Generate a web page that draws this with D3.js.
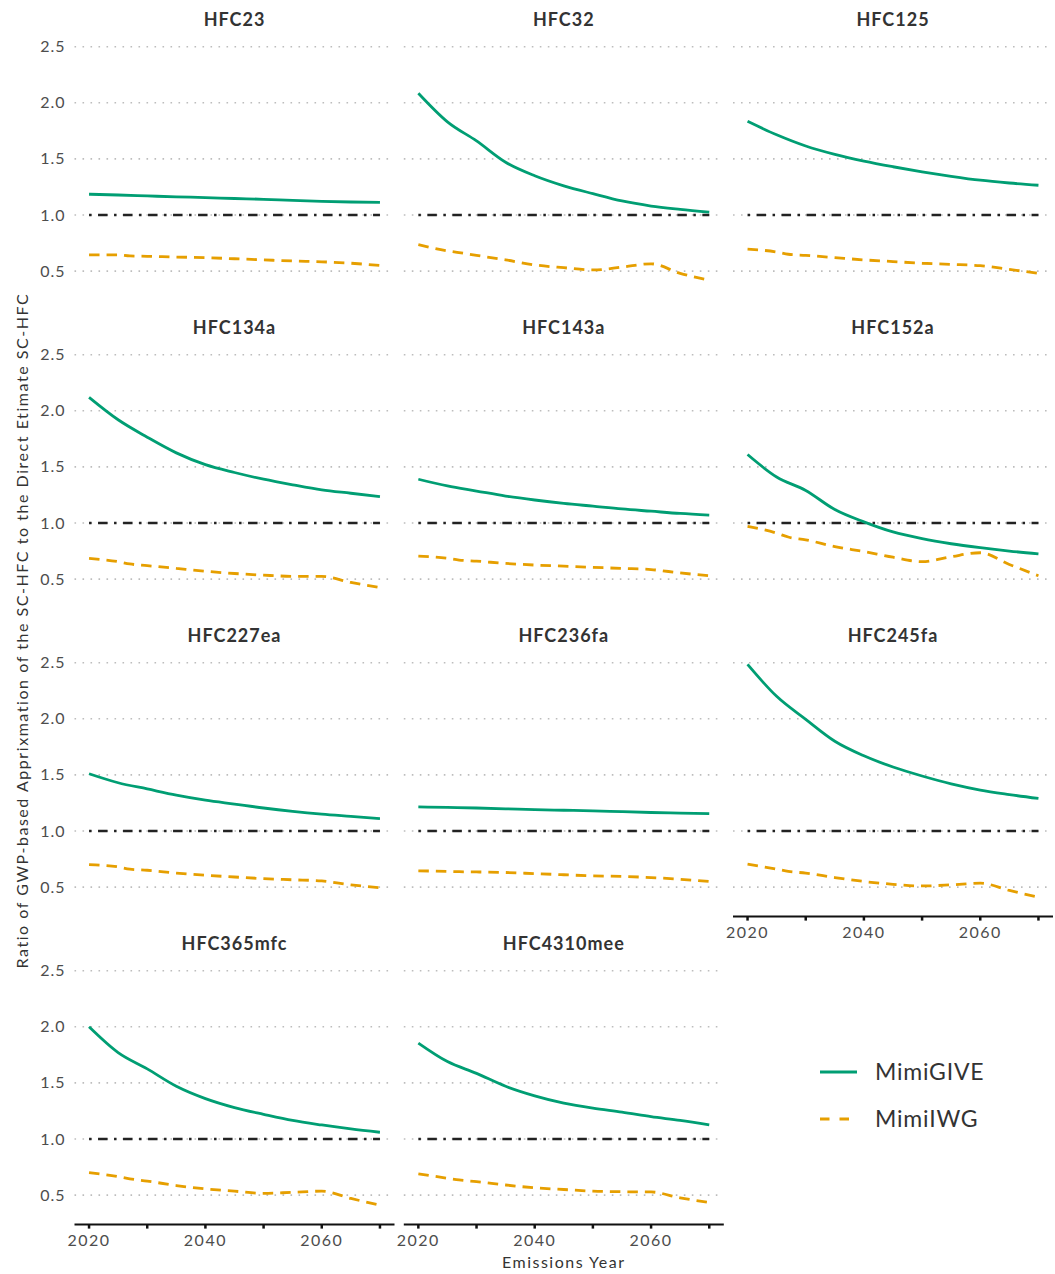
<!DOCTYPE html>
<html>
<head>
<meta charset="utf-8">
<script src="https://cdn.jsdelivr.net/npm/d3@7"></script>
<style>
  body { margin: 0; background: #fff; }
  svg text { font-family: Lato, "Open Sans", sans-serif; }
</style>
</head>
<body>
<div id="chart"></div>
<script>
// facet order (ggplot facet_wrap, 3 columns)
let gases = ["HFC23", "HFC32", "HFC125", "HFC134a", "HFC143a", "HFC152a",
             "HFC227ea", "HFC236fa", "HFC245fa", "HFC365mfc", "HFC4310mee"];

let giveYears = [2020, 2025, 2030, 2035, 2040, 2045, 2050, 2055, 2060, 2065, 2070];
let iwgYears = [2020, 2025, 2027, 2030, 2035, 2040, 2045, 2050, 2055, 2060, 2065, 2070];

// MimiGIVE ratio, one row per gas (same order as gases)
let giveRatios = [
    [1.185, 1.178, 1.170, 1.162, 1.155, 1.147, 1.140, 1.130, 1.122, 1.116, 1.113],
    [2.085, 1.830, 1.660, 1.470, 1.350, 1.260, 1.190, 1.125, 1.080, 1.050, 1.025],
    [1.835, 1.715, 1.615, 1.540, 1.480, 1.430, 1.385, 1.345, 1.310, 1.285, 1.265],
    [2.120, 1.920, 1.765, 1.625, 1.520, 1.450, 1.390, 1.340, 1.295, 1.265, 1.235],
    [1.390, 1.330, 1.285, 1.240, 1.205, 1.175, 1.150, 1.125, 1.105, 1.085, 1.070],
    [1.610, 1.410, 1.290, 1.120, 1.010, 0.920, 0.860, 0.815, 0.780, 0.750, 0.725],
    [1.510, 1.430, 1.375, 1.320, 1.275, 1.240, 1.205, 1.175, 1.150, 1.130, 1.110],
    [1.215, 1.210, 1.205, 1.198, 1.190, 1.185, 1.180, 1.172, 1.165, 1.160, 1.155],
    [2.485, 2.200, 1.995, 1.800, 1.670, 1.570, 1.490, 1.420, 1.365, 1.325, 1.290],
    [2.000, 1.770, 1.625, 1.470, 1.360, 1.280, 1.220, 1.165, 1.125, 1.090, 1.060],
    [1.855, 1.690, 1.585, 1.470, 1.385, 1.320, 1.275, 1.240, 1.200, 1.165, 1.125]
];

// MimiIWG ratio
let iwgRatios = [
    [0.645, 0.645, 0.635, 0.632, 0.625, 0.620, 0.610, 0.600, 0.590, 0.583, 0.570, 0.550],
    [0.735, 0.680, 0.665, 0.640, 0.600, 0.555, 0.530, 0.510, 0.535, 0.565, 0.480, 0.420],
    [0.695, 0.670, 0.650, 0.640, 0.620, 0.600, 0.585, 0.570, 0.560, 0.548, 0.515, 0.480],
    [0.685, 0.655, 0.635, 0.620, 0.595, 0.570, 0.550, 0.535, 0.525, 0.525, 0.470, 0.425],
    [0.705, 0.685, 0.670, 0.660, 0.640, 0.625, 0.615, 0.605, 0.595, 0.585, 0.555, 0.530],
    [0.970, 0.910, 0.875, 0.850, 0.790, 0.745, 0.695, 0.655, 0.700, 0.735, 0.630, 0.530],
    [0.700, 0.680, 0.660, 0.650, 0.625, 0.605, 0.590, 0.575, 0.565, 0.555, 0.520, 0.495],
    [0.645, 0.640, 0.637, 0.635, 0.630, 0.620, 0.610, 0.600, 0.595, 0.585, 0.570, 0.550],
    [0.705, 0.660, 0.640, 0.625, 0.585, 0.550, 0.525, 0.510, 0.520, 0.535, 0.470, 0.410],
    [0.700, 0.665, 0.645, 0.625, 0.585, 0.555, 0.535, 0.515, 0.525, 0.535, 0.470, 0.410],
    [0.690, 0.650, 0.635, 0.620, 0.590, 0.565, 0.550, 0.535, 0.530, 0.528, 0.475, 0.435]
];

let yTicks = [0.5, 1.0, 1.5, 2.0, 2.5];
let xTicks = [2020, 2030, 2040, 2050, 2060, 2070];
let xTickLabels = [2020, 2040, 2060];
let seriesNames = ["MimiGIVE", "MimiIWG"];

let width = 1055, height = 1274;
let ncol = 3;
let panelW = 320, panelH = 264;
let colX = [74.5, 403.8, 733];
let rowTop = 36.6, rowStep = 308;

let green = "#009E73", orange = "#E69F00";
let dashIwg = "10.5,7";

let xScale = d3.scaleLinear().domain([2017.5, 2072.5]).range([0, panelW]);
let yScale = d3.scaleLinear().domain([0.237, 2.59]).range([panelH, 0]);

let svg = d3.select("#chart").append("svg")
    .attr("width", width)
    .attr("height", height);

let line = d3.line()
    .x(d => xScale(d[0]))
    .y(d => yScale(d[1]))
    .curve(d3.curveMonotoneX);

let nrow = Math.ceil(gases.length / ncol);

gases.forEach((gas, i) => {
    let col = i % ncol;
    let row = Math.floor(i / ncol);
    let g = svg.append("g")
        .attr("transform", `translate(${colX[col]},${rowTop + row * rowStep})`);

    // strip title
    g.append("text")
        .attr("x", panelW / 2)
        .attr("y", -11)
        .attr("text-anchor", "middle")
        .style("font-size", "18px")
        .style("font-weight", "bold")
        .style("letter-spacing", "1px")
        .style("fill", "#333")
        .text(gas);

    // dotted horizontal grid
    g.selectAll("line.grid")
        .data(yTicks)
        .enter()
        .append("line")
        .attr("x1", 0)
        .attr("x2", panelW)
        .attr("y1", d => yScale(d))
        .attr("y2", d => yScale(d))
        .style("stroke", "#bdbdbd")
        .style("stroke-width", 1.6)
        .style("stroke-dasharray", "1.6,6.4");

    // y labels on first column only
    if (col === 0) {
        g.selectAll("text.ytick")
            .data(yTicks)
            .enter()
            .append("text")
            .attr("x", -9)
            .attr("y", d => yScale(d))
            .attr("dy", "0.35em")
            .attr("text-anchor", "end")
            .style("font-size", "16px")
            .style("letter-spacing", "1px")
            .style("fill", "#4d4d4d")
            .text(d => d3.format(".1f")(d));
    }

    // reference line at 1
    g.append("line")
        .attr("x1", xScale(2020))
        .attr("x2", xScale(2070))
        .attr("y1", yScale(1))
        .attr("y2", yScale(1))
        .style("stroke", "#222")
        .style("stroke-width", 2.4)
        .style("stroke-dasharray", "2.5,6.5,9.5,6.5");

    let give = giveYears.map((y, k) => [y, giveRatios[i][k]]);
    let iwg = iwgYears.map((y, k) => [y, iwgRatios[i][k]]);

    g.append("path")
        .datum(iwg)
        .attr("d", line)
        .style("fill", "none")
        .style("stroke", orange)
        .style("stroke-width", 2.8)
        .style("stroke-dasharray", dashIwg);

    g.append("path")
        .datum(give)
        .attr("d", line)
        .style("fill", "none")
        .style("stroke", green)
        .style("stroke-width", 2.8);

    // x axis only where nothing sits below
    let below = i + ncol;
    if (below >= gases.length) {
        let ax = g.append("g").attr("transform", `translate(0,${panelH})`);
        ax.append("line")
            .attr("x1", 0).attr("x2", panelW)
            .style("stroke", "#111")
            .style("stroke-width", 2);
        ax.selectAll("line.tick")
            .data(xTicks)
            .enter()
            .append("line")
            .attr("x1", d => xScale(d))
            .attr("x2", d => xScale(d))
            .attr("y1", 0)
            .attr("y2", 4)
            .style("stroke", "#111")
            .style("stroke-width", 2.5);
        ax.selectAll("text.xtick")
            .data(xTickLabels)
            .enter()
            .append("text")
            .attr("x", d => xScale(d))
            .attr("y", 21)
            .attr("text-anchor", "middle")
            .style("font-size", "16px")
            .style("letter-spacing", "1.5px")
            .style("fill", "#4d4d4d")
            .text(d => d);
    }
});

// axis titles
svg.append("text")
    .attr("transform", `translate(28,${rowTop + (rowStep * (nrow - 1) + panelH) / 2}) rotate(-90)`)
    .attr("text-anchor", "middle")
    .style("font-size", "16px")
    .style("letter-spacing", "1.55px")
    .style("fill", "#333")
    .text("Ratio of GWP-based Apprixmation of the SC-HFC to the Direct Etimate SC-HFC");

svg.append("text")
    .attr("x", (colX[0] + colX[2] + panelW) / 2)
    .attr("y", 1268)
    .attr("text-anchor", "middle")
    .style("font-size", "16px")
    .style("letter-spacing", "1.5px")
    .style("fill", "#333")
    .text("Emissions Year");

// legend
let legend = svg.append("g").attr("transform", "translate(820,1072)");
seriesNames.forEach((name, k) => {
    let lg = legend.append("g").attr("transform", `translate(0,${k * 47})`);
    lg.append("line")
        .attr("x1", 0).attr("x2", 37)
        .style("stroke", k === 0 ? green : orange)
        .style("stroke-width", 2.8)
        .style("stroke-dasharray", k === 0 ? null : "9.5,10");
    lg.append("text")
        .attr("x", 55)
        .attr("dy", "0.35em")
        .style("font-size", "23px")
        .style("letter-spacing", "0.8px")
        .style("fill", "#333")
        .text(name);
});
</script>
</body>
</html>
